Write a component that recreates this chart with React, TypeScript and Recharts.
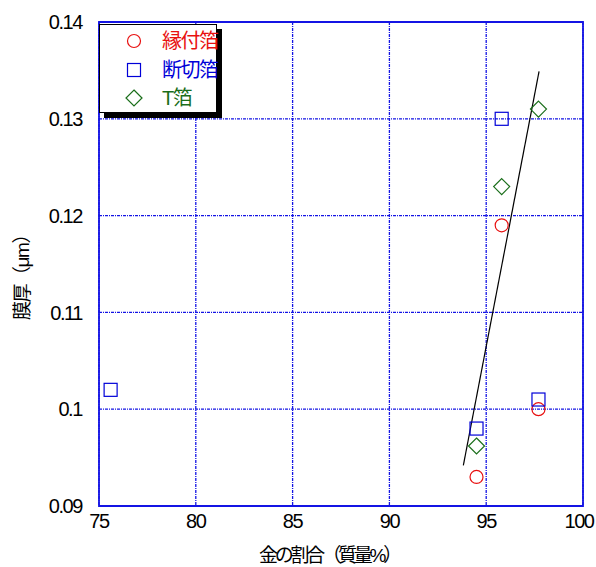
import {
  ScatterChart,
  Scatter,
  XAxis,
  YAxis,
  CartesianGrid,
  ReferenceArea,
  Legend,
} from "recharts";

// 金の割合（質量%） vs 膜厚（μm）
const entsukeHaku = [
  { x: 94.5, y: 0.093 },
  { x: 95.8, y: 0.119 },
  { x: 97.7, y: 0.1 },
];
const tachikiriHaku = [
  { x: 75.6, y: 0.102 },
  { x: 94.5, y: 0.098 },
  { x: 95.8, y: 0.13 },
  { x: 97.7, y: 0.101 },
];
const tHaku = [
  { x: 94.5, y: 0.0962 },
  { x: 95.8, y: 0.123 },
  { x: 97.7, y: 0.131 },
];
const trendLine = [
  { x: 93.82, y: 0.0942 },
  { x: 97.73, y: 0.1349 },
];

const xTicks = [75, 80, 85, 90, 95, 100];
const yTicks = [0.09, 0.1, 0.11, 0.12, 0.13, 0.14];

const RED = "#e81010";
const BLUE = "#0000d8";
const GREEN = "#1a6e1a";
const GRID = "#1414e4";

const legendItems = [
  { name: "縁付箔", color: RED, kind: "circle" },
  { name: "断切箔", color: BLUE, kind: "square" },
  { name: "T箔", color: GREEN, kind: "diamond" },
];

const font = "'Liberation Sans', Arial, 'Noto Sans CJK JP', sans-serif";

function Marker({ kind, color, cx, cy }: any) {
  if (kind === "circle")
    return <circle cx={cx} cy={cy} r={6.5} fill="none" stroke={color} strokeWidth={1.2} />;
  if (kind === "square")
    return (
      <rect x={cx - 6.5} y={cy - 6.5} width={13} height={13} fill="none" stroke={color} strokeWidth={1.2} />
    );
  return (
    <polygon
      points={`${cx},${cy - 8} ${cx + 8},${cy} ${cx},${cy + 8} ${cx - 8},${cy}`}
      fill="none"
      stroke={color}
      strokeWidth={1.2}
    />
  );
}

function LegendBox() {
  return (
    <div
      style={{
        width: 116,
        height: 87,
        border: "1px solid #000",
        boxShadow: "5px 5px 0 #000",
        background: "#fff",
        position: "relative",
        fontFamily: font,
      }}
    >
      {legendItems.map((item, i) => (
        <div
          key={item.name}
          style={{ position: "absolute", left: 0, top: 2 + i * 28.5, height: 28, width: 116 }}
        >
          <svg width={24} height={28} style={{ position: "absolute", left: 22, top: 0 }}>
            <Marker kind={item.kind} color={item.color} cx={12} cy={14} />
          </svg>
          <span
            style={{
              position: "absolute",
              left: 62,
              top: 2,
              fontSize: 20,
              lineHeight: "24px",
              color: item.color,
              letterSpacing: -1.5,
              whiteSpace: "nowrap",
            }}
          >
            {item.name}
          </span>
        </div>
      ))}
    </div>
  );
}

const tickStyle = { fontSize: 20, fill: "#000", fontFamily: font, letterSpacing: -1.4 };

// x tick labels; the last one is nudged left so it stays inside the page
function XTick({ x, y, payload }: any) {
  const shift = payload.value === 100 ? -4 : 0;
  return (
    <text x={x + shift} y={y} dy="0.71em" textAnchor="middle" style={tickStyle}>
      {payload.value}
    </text>
  );
}

export default function App() {
  return (
    <div style={{ position: "absolute", left: 0, top: 0, background: "#fff" }}>
      <ScatterChart width={596} height={567} margin={{ top: 22, right: 13, left: 0, bottom: 0 }}>
        <CartesianGrid stroke={GRID} strokeDasharray="3 1 1 1" strokeWidth={1.3} />
        <XAxis
          type="number"
          dataKey="x"
          domain={[75, 100]}
          ticks={xTicks}
          height={61}
          axisLine={false}
          tickLine={false}
          tickSize={0}
          tickMargin={8}
          tick={<XTick />}
          allowDataOverflow
          label={{
            value: "金の割合（質量%）",
            position: "insideBottom",
            offset: 5,
            dx: -12,
            style: { fontSize: 19, fill: "#000", fontFamily: font, letterSpacing: -3.2 },
          }}
        />
        <YAxis
          type="number"
          dataKey="y"
          domain={[0.09, 0.14]}
          ticks={yTicks}
          width={99}
          axisLine={false}
          tickLine={false}
          tickSize={0}
          tickMargin={17}
          tick={tickStyle}
          allowDataOverflow
          label={{
            value: "膜厚（μm）",
            position: "center",
            angle: -90,
            dx: -27,
            dy: 9,
            style: { fontSize: 19, fill: "#000", fontFamily: font, letterSpacing: -1.5 },
          }}
        />
        <YAxis
          yAxisId="right"
          orientation="right"
          mirror
          type="number"
          domain={[0.09, 0.14]}
          ticks={yTicks}
          axisLine={false}
          tickSize={6}
          tickLine={{ stroke: GRID }}
          tick={() => <g />}
        />
        <ReferenceArea x1={75} x2={100} y1={0.09} y2={0.14} fill="none" stroke={GRID} strokeWidth={1.8} />
        <Scatter
          name="trend"
          data={trendLine}
          line={{ stroke: "#000", strokeWidth: 1.2 }}
          shape={() => <g />}
          legendType="none"
          isAnimationActive={false}
        />
        <Scatter
          name="縁付箔"
          data={entsukeHaku}
          shape={(p: any) => <Marker kind="circle" color={RED} cx={p.cx} cy={p.cy} />}
          isAnimationActive={false}
        />
        <Scatter
          name="断切箔"
          data={tachikiriHaku}
          shape={(p: any) => <Marker kind="square" color={BLUE} cx={p.cx} cy={p.cy} />}
          isAnimationActive={false}
        />
        <Scatter
          name="T箔"
          data={tHaku}
          shape={(p: any) => <Marker kind="diamond" color={GREEN} cx={p.cx} cy={p.cy} />}
          isAnimationActive={false}
        />
        <Legend
          layout="vertical"
          align="center"
          verticalAlign="middle"
          content={() => <LegendBox />}
          wrapperStyle={{ position: "absolute", left: 99, top: 24, width: "auto", height: "auto" }}
        />
      </ScatterChart>
    </div>
  );
}
